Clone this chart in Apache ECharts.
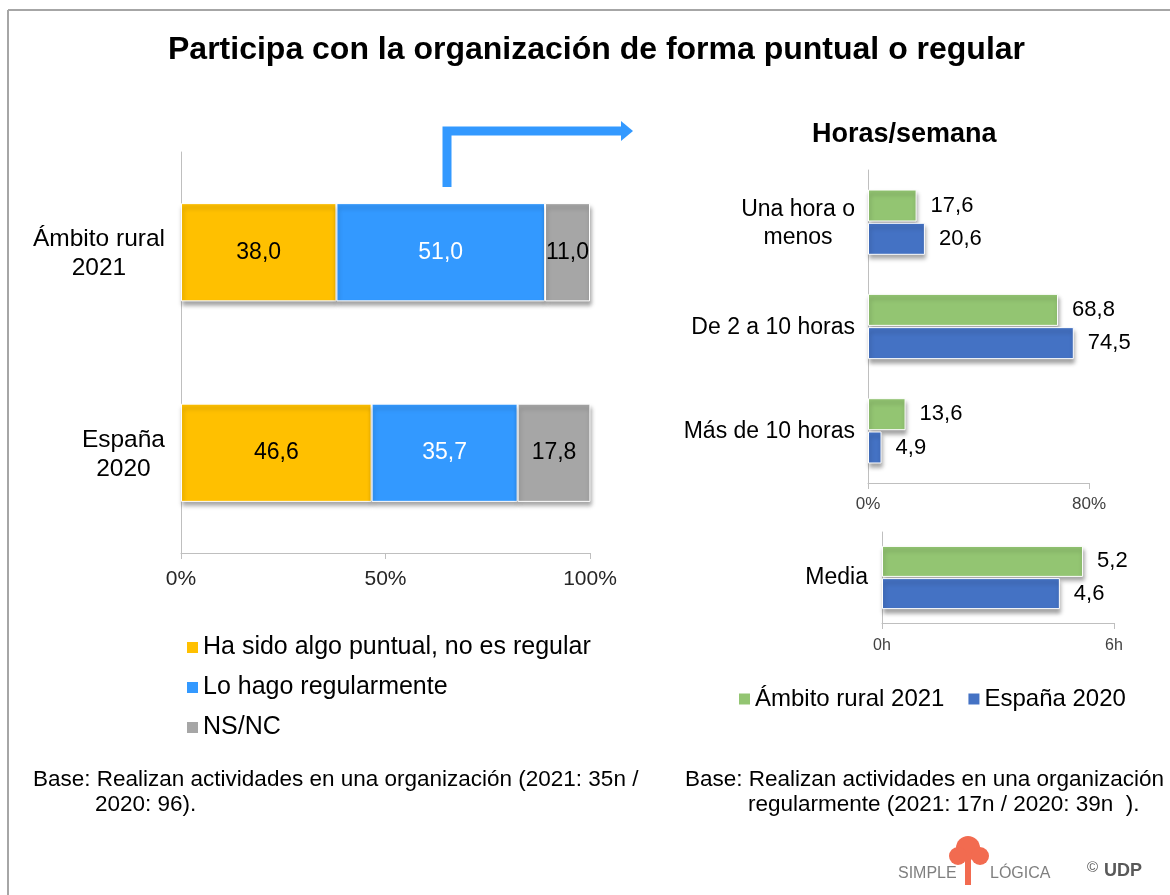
<!DOCTYPE html>
<html>
<head>
<meta charset="UTF-8">
<title>Participa con la organización</title>
<script src="https://cdn.jsdelivr.net/npm/echarts@6/dist/echarts.min.js"></script>
<style>
	html, body { margin: 0; padding: 0; background: #fff; }
	#main { width: 1170px; height: 895px; }
</style>
</head>
<body>
<div id="main"></div>
<script type="text/javascript">
	// datos del gráfico de la izquierda (porcentajes apilados)
	var categorias = ['Ámbito rural\n2021', 'España\n2020'];
	var puntual = [38.0, 46.6];
	var regular = [51.0, 35.7];
	var nsnc = [11.0, 17.8];

	// horas/semana
	var horasCats = ['Una hora o\nmenos', 'De 2 a 10 horas', 'Más de 10 horas'];
	var horasRural = [17.6, 68.8, 13.6];
	var horasEspana = [20.6, 74.5, 4.9];

	// media de horas
	var mediaCats = ['Media'];
	var mediaRural = [5.2];
	var mediaEspana = [4.6];

	var ticksIzq = [0, 50, 100];

	var fuente = '"Liberation Sans", Arial, sans-serif';
	var gris = '#BFBFBF';

	function coma(p) {
		return p.value.toFixed(1).replace('.', ',');
	}
	// lineas centradas dentro de la etiqueta
	function centrado(v) {
		return v.split('\n').map(function (s) { return '{c|' + s + '}'; }).join('\n');
	}

	var sombra = {
		shadowColor: 'rgba(0,0,0,0.35)',
		shadowBlur: 4,
		shadowOffsetX: 1,
		shadowOffsetY: 4
	};

	function barraApilada(nombre, datos, color, colorTexto) {
		return {
			name: nombre,
			type: 'bar',
			stack: 'total',
			xAxisIndex: 0,
			yAxisIndex: 0,
			barWidth: '49%',
			data: datos,
			itemStyle: Object.assign({ color: color, borderColor: '#fff', borderWidth: 1 }, sombra),
			label: {
				show: true,
				position: 'inside',
				formatter: coma,
				fontSize: 23,
				color: colorTexto
			}
		};
	}

	function barraHoras(nombre, datos, color, eje, ancho) {
		return {
			name: nombre,
			type: 'bar',
			xAxisIndex: eje,
			yAxisIndex: eje,
			barWidth: ancho,
			barGap: '4%',
			data: datos,
			itemStyle: Object.assign({ color: color, borderColor: '#fff', borderWidth: 1 }, sombra),
			label: {
				show: true,
				position: 'right',
				distance: 14,
				formatter: coma,
				fontSize: 22,
				color: '#000'
			}
		};
	}

	var iconoLeyenda = { borderWidth: 0, shadowBlur: 0, shadowOffsetX: 0, shadowOffsetY: 0 };

	var chart = echarts.init(document.getElementById('main'));

	var option = {
		animation: false,
		backgroundColor: '#fff',
		textStyle: { fontFamily: fuente },
		title: [{
			text: 'Participa con la organización de forma puntual o regular',
			left: 163,
			top: 29,
			textStyle: { fontSize: 32, fontWeight: 'bold', color: '#000', fontFamily: fuente }
		}, {
			text: 'Horas/semana',
			left: 807,
			top: 116,
			textStyle: { fontSize: 27, fontWeight: 'bold', color: '#000', fontFamily: fuente }
		}],
		legend: [{
			orient: 'vertical',
			left: 182,
			top: 630,
			itemGap: 15,
			itemWidth: 11,
			itemHeight: 11,
			icon: 'rect',
			itemStyle: iconoLeyenda,
			data: ['Ha sido algo puntual, no es regular', 'Lo hago regularmente', 'NS/NC'],
			textStyle: { fontSize: 25, color: '#000' }
		}, {
			orient: 'horizontal',
			left: 734,
			top: 682,
			itemGap: 24,
			itemWidth: 11,
			itemHeight: 11,
			icon: 'rect',
			itemStyle: iconoLeyenda,
			data: ['Ámbito rural 2021', 'España 2020'],
			textStyle: { fontSize: 24, color: '#000' }
		}],
		grid: [
			{ left: 181, top: 152, width: 409, height: 401 },
			{ left: 868, top: 170, width: 221, height: 313 },
			{ left: 882, top: 532, width: 232, height: 91 }
		],
		xAxis: [{
			gridIndex: 0,
			type: 'value',
			min: ticksIzq[0],
			max: ticksIzq[2],
			interval: 50,
			axisLine: { show: true, lineStyle: { color: gris } },
			axisTick: { show: true, length: 6, lineStyle: { color: gris } },
			splitLine: { show: false },
			axisLabel: { formatter: '{value}%', fontSize: 21, color: '#262626', margin: 16 }
		}, {
			gridIndex: 1,
			type: 'value',
			min: 0,
			max: 80,
			interval: 80,
			axisLine: { show: true, lineStyle: { color: gris } },
			axisTick: { show: true, length: 6, lineStyle: { color: gris } },
			splitLine: { show: false },
			axisLabel: { formatter: '{value}%', fontSize: 17, color: '#404040', margin: 13 }
		}, {
			gridIndex: 2,
			type: 'value',
			min: 0,
			max: 6,
			interval: 6,
			axisLine: { show: true, lineStyle: { color: gris } },
			axisTick: { show: true, length: 6, lineStyle: { color: gris } },
			splitLine: { show: false },
			axisLabel: { formatter: '{value}h', fontSize: 16, color: '#404040', margin: 15 }
		}],
		yAxis: [{
			gridIndex: 0,
			type: 'category',
			inverse: true,
			data: categorias,
			axisLine: { show: true, lineStyle: { color: gris } },
			axisTick: { show: false },
			axisLabel: {
				margin: 16,
				formatter: centrado,
				rich: { c: { fontSize: 24.5, lineHeight: 29, color: '#000', align: 'center', padding: [3, 0, 0, 0] } }
			}
		}, {
			gridIndex: 1,
			type: 'category',
			inverse: true,
			data: horasCats,
			axisLine: { show: true, lineStyle: { color: gris } },
			axisTick: { show: false },
			axisLabel: {
				margin: 13,
				formatter: centrado,
				rich: { c: { fontSize: 23, lineHeight: 28, color: '#000', align: 'center', padding: [2, 0, 0, 0] } }
			}
		}, {
			gridIndex: 2,
			type: 'category',
			inverse: true,
			data: mediaCats,
			axisLine: { show: true, lineStyle: { color: gris } },
			axisTick: { show: false },
			axisLabel: { margin: 14, fontSize: 23, color: '#000' }
		}],
		series: [
			barraApilada('Ha sido algo puntual, no es regular', puntual, '#FFC000', '#000'),
			barraApilada('Lo hago regularmente', regular, '#3399FF', '#fff'),
			barraApilada('NS/NC', nsnc, '#A6A6A6', '#000'),
			barraHoras('Ámbito rural 2021', horasRural, '#93C572', 1, 32),
			barraHoras('España 2020', horasEspana, '#4472C4', 1, 32),
			barraHoras('Ámbito rural 2021', mediaRural, '#93C572', 2, 31),
			barraHoras('España 2020', mediaEspana, '#4472C4', 2, 31)
		],
		graphic: [
			// marco
			{ type: 'line', shape: { x1: 8, y1: 10, x2: 1170, y2: 10 }, style: { stroke: '#A6A6A6', lineWidth: 2 } },
			{ type: 'line', shape: { x1: 8, y1: 10, x2: 8, y2: 895 }, style: { stroke: '#A6A6A6', lineWidth: 2 } },
			// flecha
			{ type: 'polyline', shape: { points: [[447, 187], [447, 131], [622, 131]] }, style: { stroke: '#3399FF', lineWidth: 9, fill: null } },
			{ type: 'polygon', shape: { points: [[621, 121], [633, 131], [621, 141]] }, style: { fill: '#3399FF' } },
			// bases
			{ type: 'text', left: 33, top: 768, style: { text: 'Base: Realizan actividades en una organización (2021: 35n /', fontSize: 22.5, fill: '#000', fontFamily: fuente } },
			{ type: 'text', left: 95, top: 793, style: { text: '2020: 96).', fontSize: 22.5, fill: '#000', fontFamily: fuente } },
			{ type: 'text', left: 685, top: 768, style: { text: 'Base: Realizan actividades en una organización', fontSize: 22.5, fill: '#000', fontFamily: fuente } },
			{ type: 'text', left: 748, top: 793, style: { text: 'regularmente (2021: 17n / 2020: 39n  ).', fontSize: 22.5, fill: '#000', fontFamily: fuente } },
			// logo
			{ type: 'text', left: 898, top: 866, style: { text: 'SIMPLE', fontSize: 16, fill: '#7F7F7F', fontFamily: fuente } },
			{ type: 'circle', shape: { cx: 968, cy: 848, r: 12 }, style: { fill: '#F26B50' } },
			{ type: 'circle', shape: { cx: 958, cy: 856, r: 9 }, style: { fill: '#F26B50' } },
			{ type: 'circle', shape: { cx: 980, cy: 856, r: 9 }, style: { fill: '#F26B50' } },
			{ type: 'rect', shape: { x: 965, y: 856, width: 6, height: 29 }, style: { fill: '#F26B50' } },
			{ type: 'text', left: 990, top: 866, style: { text: 'LÓGICA', fontSize: 16, fill: '#7F7F7F', fontFamily: fuente } },
			{ type: 'text', left: 1087, top: 860, style: { text: '©', fontSize: 15, fill: '#595959', fontFamily: fuente } },
			{ type: 'text', left: 1104, top: 862, style: { text: 'UDP', fontSize: 18, fontWeight: 'bold', fill: '#595959', fontFamily: fuente } }
		]
	};

	chart.setOption(option);
</script>
</body>
</html>
